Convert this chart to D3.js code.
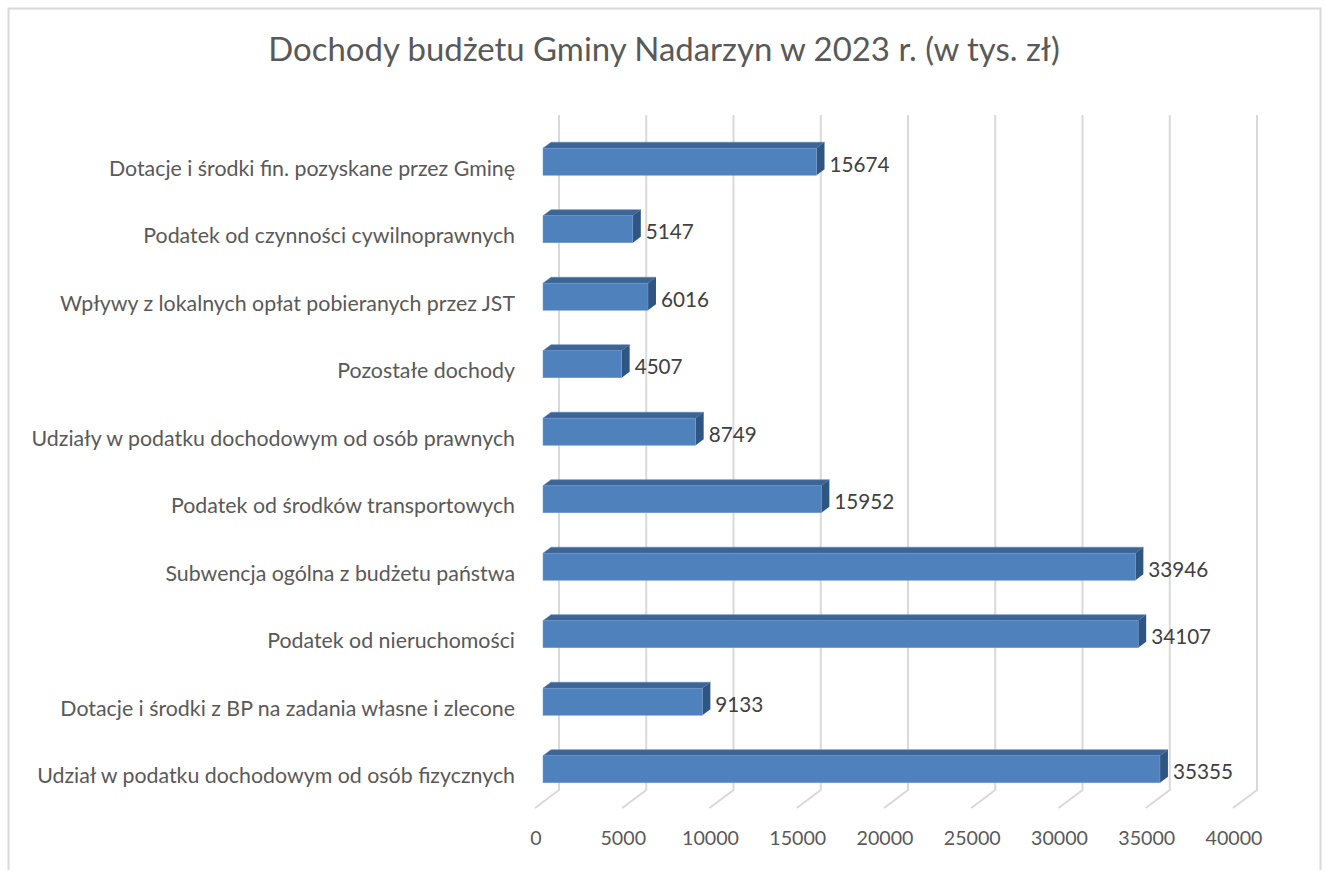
<!DOCTYPE html>
<html><head><meta charset="utf-8">
<script src="https://cdn.jsdelivr.net/npm/d3@7"></script>
<style>body{margin:0;background:#fff}svg{display:block}</style>
</head><body>
<script>
const title = "Dochody budżetu Gminy Nadarzyn w 2023 r. (w tys. zł)";
const categories = [
  "Dotacje i środki fin. pozyskane przez Gminę",
  "Podatek od czynności cywilnoprawnych",
  "Wpływy z lokalnych opłat pobieranych przez JST",
  "Pozostałe dochody",
  "Udziały w podatku dochodowym od osób prawnych",
  "Podatek od środków transportowych",
  "Subwencja ogólna z budżetu państwa",
  "Podatek od nieruchomości",
  "Dotacje i środki z BP na zadania własne i zlecone",
  "Udział w podatku dochodowym od osób fizycznych"
];
const values = [15674, 5147, 6016, 4507, 8749, 15952, 33946, 34107, 9133, 35355];
const ticks = [0, 5000, 10000, 15000, 20000, 25000, 30000, 35000, 40000];

const W = 1326, H = 870;
const font = "Lato, 'Open Sans', sans-serif";
const svg = d3.select("body").append("svg").attr("width", W).attr("height", H);

// chart border
svg.append("rect").attr("x", 8.5).attr("y", 8.5).attr("width", 1312).attr("height", 870)
  .attr("fill", "#fff").attr("stroke", "#d9d9d9").attr("stroke-width", 2);

// 3D depth offsets
const dx = 8, dy = -6;          // bar depth
const wallDx = 16, wallDy = -12; // back wall relative to bar front plane
const floorDx = -8, floorDy = 6; // floor front relative to bar front plane

const x = d3.scaleLinear().domain([0, 40000]).range([543, 1241]);
const y = d3.scaleBand().domain(categories).range([128, 803]).paddingInner(0.6).paddingOuter(0.3);
const plotTop = 127, plotBottom = 802; // in bar-front plane

// gridlines (back wall + floor diagonal)
const grid = svg.append("g").attr("fill", "none").attr("stroke", "#d9d9d9").attr("stroke-width", 2);
ticks.forEach(t => {
  const xf = x(t);
  grid.append("path").attr("d",
    `M${xf + wallDx},${plotTop + wallDy} L${xf + wallDx},${plotBottom + wallDy} L${xf + floorDx},${plotBottom + floorDy}`);
});

// bars
const colFront = "#4f81bd", colTop = "#3c6494", colSide = "#2f5582";
const bars = svg.append("g");
categories.forEach((c, i) => {
  const x0 = x(0), x1 = x(values[i]), y0 = y(c), h = y.bandwidth();
  bars.append("path").attr("fill", colTop).attr("stroke", "#5a86bb").attr("stroke-width", 0.6)
    .attr("d", `M${x0},${y0} L${x0 + dx},${y0 + dy} L${x1 + dx},${y0 + dy} L${x1},${y0} Z`);
  bars.append("path").attr("fill", colSide)
    .attr("d", `M${x1},${y0} L${x1 + dx},${y0 + dy} L${x1 + dx},${y0 + h + dy} L${x1},${y0 + h} Z`);
  bars.append("rect").attr("x", x0).attr("y", y0).attr("width", x1 - x0).attr("height", h)
    .attr("fill", colFront).attr("stroke", "#6f9bd0").attr("stroke-width", 0.5);
});

function fit(sel, target, base) {
  const w = sel.node().getComputedTextLength();
  sel.attr("font-size", base * target / w);
}

// value labels
const vl = svg.append("g").attr("font-family", font).attr("fill", "#404040");
categories.forEach((c, i) => {
  vl.append("text").attr("x", x(values[i]) + dx + 5).attr("y", y(c) + y.bandwidth() / 2 + 2)
    .attr("dominant-baseline", "central").attr("font-size", 19).text(values[i]);
});
{
  const probe = vl.append("text").attr("font-size", 20).text("35355");
  const w = probe.node().getComputedTextLength(); probe.remove();
  vl.selectAll("text").attr("font-size", 20 * 60 / w);
}

// category labels
const cl = svg.append("g").attr("font-family", font).attr("fill", "#595959").attr("text-anchor", "end");
categories.forEach(c => {
  cl.append("text").attr("x", 515).attr("y", y(c) + y.bandwidth() / 2 + 6)
    .attr("dominant-baseline", "central").attr("font-size", 20).text(c);
});
{
  const probe = cl.append("text").attr("font-size", 20).text(categories[9]);
  const w = probe.node().getComputedTextLength(); probe.remove();
  cl.selectAll("text").attr("font-size", 20 * 478 / w);
}

// tick labels
const tl = svg.append("g").attr("font-family", font).attr("fill", "#595959").attr("text-anchor", "middle");
ticks.forEach(t => {
  tl.append("text").attr("x", x(t) + floorDx + 1).attr("y", 845).attr("font-size", 18).text(t);
});
{
  const probe = tl.append("text").attr("font-size", 20).text("40000");
  const w = probe.node().getComputedTextLength(); probe.remove();
  tl.selectAll("text").attr("font-size", 20 * 57 / w);
}

// title
const tt = svg.append("text").attr("x", 664).attr("y", 61).attr("text-anchor", "middle")
  .attr("font-family", font).attr("font-weight", 400).attr("fill", "#595959").attr("font-size", 26).text(title);
fit(tt, 792, 26);
</script>
</body></html>
